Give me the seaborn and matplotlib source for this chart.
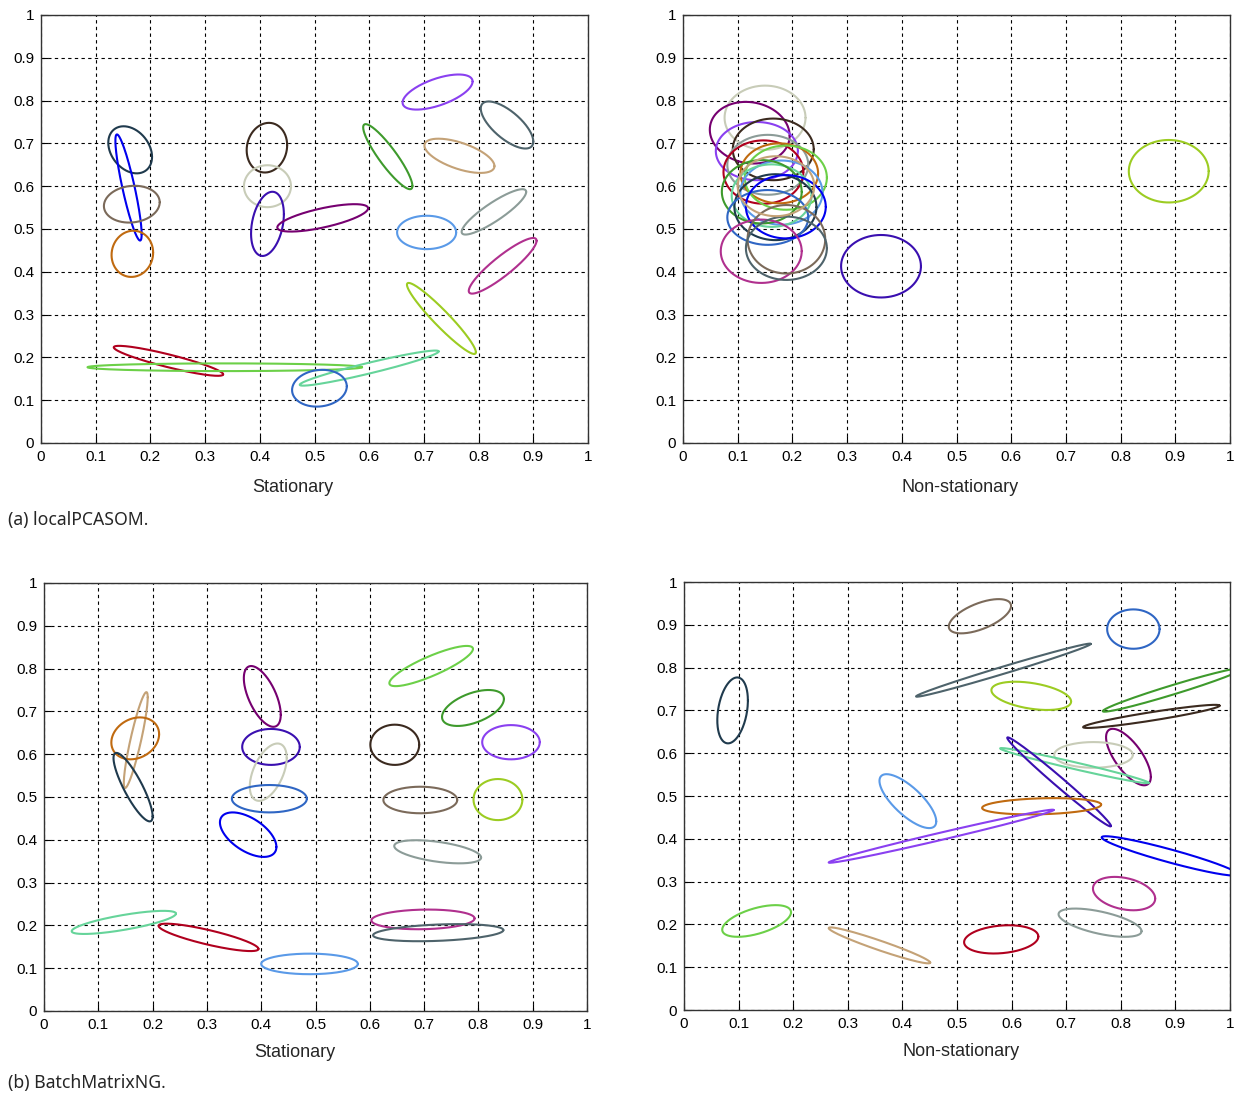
import numpy as np
import pandas as pd
import matplotlib
matplotlib.use("Agg")
import matplotlib.pyplot as plt
from matplotlib.ticker import FixedLocator, FuncFormatter
import seaborn as sns

# ---------------- colour names used by the ellipses ----------------
COL = {
    "darkslate": "#1f3a4d", "blue": "#0000ee", "taupe": "#7b6a5a",
    "darkorange": "#c06a10", "darkbrown": "#3b2a1f", "pale": "#c8ccb8",
    "indigo": "#3a0fb0", "purple": "#760070", "violet": "#8a40f0",
    "slategray": "#4e636b", "tan": "#c4a277", "forest": "#3e9a2c",
    "gray": "#8c9c98", "cornflower": "#5a9ae8", "magenta": "#b0308e",
    "yellowgreen": "#9ccc22", "crimson": "#b0001e", "lightgreen": "#6cd048",
    "aquamarine": "#66d49a", "royalblue": "#2f66c4",
}

# ---------------- data: ellipses (centre, half-extent x/y, tilt correlation) ----------------
# (a) localPCASOM, stationary
a_stat_cx = [0.163, 0.160, 0.166, 0.167, 0.413, 0.414, 0.414, 0.515, 0.725, 0.852,
             0.765, 0.634, 0.828, 0.705, 0.844, 0.732, 0.233, 0.336, 0.600, 0.509]
a_stat_cy = [0.685, 0.597, 0.558, 0.442, 0.690, 0.600, 0.512, 0.526, 0.820, 0.743,
             0.671, 0.669, 0.540, 0.492, 0.414, 0.291, 0.192, 0.177, 0.175, 0.128]
a_stat_rx = [0.040, 0.024, 0.051, 0.038, 0.037, 0.043, 0.030, 0.083, 0.064, 0.048,
             0.064, 0.045, 0.059, 0.054, 0.062, 0.063, 0.100, 0.251, 0.127, 0.050]
a_stat_ry = [0.055, 0.124, 0.043, 0.054, 0.058, 0.049, 0.075, 0.032, 0.041, 0.055,
             0.040, 0.076, 0.053, 0.039, 0.065, 0.083, 0.035, 0.009, 0.041, 0.043]
a_stat_rho = [-0.3, -0.88, 0.1, 0.05, 0.1, 0.0, 0.3, 0.7, 0.6, -0.7,
              -0.6, -0.9, 0.88, 0.0, 0.9, -0.95, -0.9, 0.0, 0.95, 0.1]
a_stat_col = ["darkslate", "blue", "taupe", "darkorange", "darkbrown", "pale", "indigo",
              "purple", "violet", "slategray", "tan", "forest", "gray", "cornflower",
              "magenta", "yellowgreen", "crimson", "lightgreen", "aquamarine", "royalblue"]

# (a) localPCASOM, non-stationary
a_non_cx = [0.150, 0.122, 0.135, 0.165, 0.155, 0.147, 0.176, 0.188, 0.180, 0.162,
            0.144, 0.169, 0.155, 0.188, 0.143, 0.189, 0.189, 0.170, 0.362, 0.888]
a_non_cy = [0.760, 0.725, 0.682, 0.686, 0.650, 0.633, 0.630, 0.620, 0.585, 0.578,
            0.587, 0.551, 0.527, 0.552, 0.448, 0.476, 0.455, 0.600, 0.413, 0.635]
a_non_rx = [0.074, 0.073, 0.075, 0.074, 0.074, 0.073, 0.071, 0.075, 0.075, 0.073,
            0.073, 0.075, 0.074, 0.073, 0.074, 0.071, 0.074, 0.070, 0.073, 0.073]
a_non_ry = [0.075, 0.072, 0.068, 0.072, 0.070, 0.074, 0.070, 0.075, 0.075, 0.073,
            0.074, 0.077, 0.064, 0.074, 0.074, 0.080, 0.074, 0.070, 0.073, 0.073]
a_non_rho = [0.0, -0.1, 0.0, 0.0, 0.0, 0.0, 0.0, 0.0, 0.0, 0.0,
             0.0, 0.0, 0.0, 0.0, 0.0, 0.0, 0.0, 0.0, 0.0, 0.0]
a_non_col = ["pale", "purple", "violet", "darkbrown", "gray", "crimson", "darkorange",
             "lightgreen", "cornflower", "aquamarine", "forest", "darkslate", "royalblue",
             "blue", "magenta", "taupe", "slategray", "tan", "indigo", "yellowgreen"]

# (b) BatchMatrixNG, stationary
b_stat_cx = [0.169, 0.168, 0.164, 0.402, 0.418, 0.413, 0.415, 0.376, 0.713, 0.790,
             0.646, 0.860, 0.693, 0.836, 0.725, 0.147, 0.303, 0.489, 0.698, 0.726]
b_stat_cy = [0.633, 0.637, 0.523, 0.735, 0.617, 0.558, 0.496, 0.412, 0.806, 0.708,
             0.622, 0.628, 0.493, 0.494, 0.372, 0.207, 0.172, 0.110, 0.214, 0.183]
b_stat_rx = [0.022, 0.044, 0.036, 0.034, 0.053, 0.034, 0.069, 0.052, 0.077, 0.057,
             0.045, 0.053, 0.068, 0.045, 0.080, 0.096, 0.092, 0.089, 0.095, 0.120]
b_stat_ry = [0.112, 0.049, 0.080, 0.071, 0.042, 0.067, 0.032, 0.052, 0.047, 0.042,
             0.047, 0.040, 0.031, 0.048, 0.027, 0.027, 0.032, 0.024, 0.023, 0.020]
b_stat_rho = [0.89, 0.2, -0.85, -0.6, 0.0, 0.5, 0.0, -0.55, 0.85, 0.5,
              0.0, 0.0, 0.0, 0.0, -0.5, 0.76, -0.84, 0.0, 0.1, 0.3]
b_stat_col = ["tan", "darkorange", "darkslate", "purple", "indigo", "pale", "royalblue",
              "blue", "lightgreen", "forest", "darkbrown", "violet", "taupe", "yellowgreen",
              "gray", "aquamarine", "crimson", "cornflower", "magenta", "slategray"]

# (b) BatchMatrixNG, non-stationary
b_non_cx = [0.542, 0.823, 0.585, 0.089, 0.636, 0.895, 0.856, 0.814, 0.750, 0.715,
            0.687, 0.410, 0.655, 0.471, 0.890, 0.806, 0.762, 0.133, 0.358, 0.581]
b_non_cy = [0.920, 0.890, 0.794, 0.700, 0.734, 0.748, 0.686, 0.591, 0.596, 0.571,
            0.533, 0.488, 0.476, 0.406, 0.360, 0.272, 0.204, 0.208, 0.151, 0.165]
b_non_rx = [0.057, 0.048, 0.160, 0.028, 0.073, 0.128, 0.125, 0.041, 0.072, 0.136,
            0.095, 0.052, 0.109, 0.206, 0.125, 0.057, 0.076, 0.063, 0.093, 0.068]
b_non_ry = [0.040, 0.046, 0.062, 0.077, 0.033, 0.051, 0.027, 0.066, 0.030, 0.041,
            0.104, 0.063, 0.019, 0.062, 0.046, 0.039, 0.033, 0.037, 0.042, 0.033]
b_non_rho = [0.6, 0.0, 0.99, 0.3, -0.4, 0.975, 0.93, -0.7, 0.0, -0.98,
             -0.99, -0.75, 0.2, 0.99, -0.94, -0.3, -0.6, 0.55, -0.96, 0.2]
b_non_col = ["taupe", "royalblue", "slategray", "darkslate", "yellowgreen", "forest",
             "darkbrown", "purple", "pale", "aquamarine", "indigo", "cornflower",
             "darkorange", "violet", "blue", "magenta", "gray", "lightgreen", "tan", "crimson"]

tick_vals = [0, 0.1, 0.2, 0.3, 0.4, 0.5, 0.6, 0.7, 0.8, 0.9, 1]

panels = [
    (a_stat_cx, a_stat_cy, a_stat_rx, a_stat_ry, a_stat_rho, a_stat_col, "Stationary",
     [41 / 1234, 1 - 443 / 1097, 547 / 1234, 428 / 1097], (0.461, -0.103)),
    (a_non_cx, a_non_cy, a_non_rx, a_non_ry, a_non_rho, a_non_col, "Non-stationary",
     [683 / 1234, 1 - 443 / 1097, 547 / 1234, 428 / 1097], (0.506, -0.103)),
    (b_stat_cx, b_stat_cy, b_stat_rx, b_stat_ry, b_stat_rho, b_stat_col, "Stationary",
     [44 / 1234, 1 - 1011 / 1097, 543 / 1234, 428 / 1097], (0.462, -0.097)),
    (b_non_cx, b_non_cy, b_non_rx, b_non_ry, b_non_rho, b_non_col, "Non-stationary",
     [684 / 1234, 1 - 1010 / 1097, 546 / 1234, 428 / 1097], (0.507, -0.098)),
]


def ellipse_frame(cx, cy, rx, ry, rho, n=240):
    t = np.linspace(0, 2 * np.pi, n)
    rows = []
    for i, (x0, y0, ax_, ay_, r) in enumerate(zip(cx, cy, rx, ry, rho)):
        xs = x0 + ax_ * np.cos(t)
        ys = y0 + ay_ * (r * np.cos(t) + np.sqrt(1 - r * r) * np.sin(t))
        rows.append(pd.DataFrame({"x": xs, "y": ys, "ell": f"e{i:02d}"}))
    return pd.concat(rows, ignore_index=True)


sns.set_style("white")
plt.rcParams["font.family"] = ["Liberation Sans", "DejaVu Sans"]

fig = plt.figure(figsize=(12.34, 10.97), dpi=100)

for cx, cy, rx, ry, rho, cols, xlabel, rect, lab_pos in panels:
    ax = fig.add_axes(rect)
    df = ellipse_frame(cx, cy, rx, ry, rho)
    order = [f"e{i:02d}" for i in range(len(cx))]
    sns.lineplot(data=df, x="x", y="y", hue="ell", hue_order=order,
                 palette=[COL[c] for c in cols], sort=False, estimator=None,
                 legend=False, lw=1.5, ax=ax)
    ax.set_xlim(0, 1)
    ax.set_ylim(0, 1)
    ax.xaxis.set_major_locator(FixedLocator(tick_vals))
    ax.yaxis.set_major_locator(FixedLocator(tick_vals))
    fmt = FuncFormatter(lambda v, p: f"{v:g}")
    ax.xaxis.set_major_formatter(fmt)
    ax.yaxis.set_major_formatter(fmt)
    ax.grid(True, color="black", linestyle=(0, (3, 3)), lw=0.8)
    ax.set_axisbelow(True)
    ax.tick_params(direction="in", length=5, width=0.8, labelsize=11, pad=5,
                   colors="black", bottom=True, left=True)
    for s in ax.spines.values():
        s.set_color("#333333")
        s.set_linewidth(1.0)
        s.set_visible(True)
    ax.set_xlabel(xlabel, fontsize=13)
    ax.xaxis.set_label_coords(*lab_pos)
    ax.xaxis.label.set_va("center")
    ax.set_ylabel("")

fig.text(8 / 1234, 1 - 520 / 1097, "(a) localPCASOM.", fontsize=12.7,
         family=["Noto Sans", "DejaVu Sans"], va="center", ha="left")
fig.text(8 / 1234, 1 - 1083 / 1097, "(b) BatchMatrixNG.", fontsize=12.7,
         family=["Noto Sans", "DejaVu Sans"], va="center", ha="left")

fig.savefig("out.png", dpi=100)
